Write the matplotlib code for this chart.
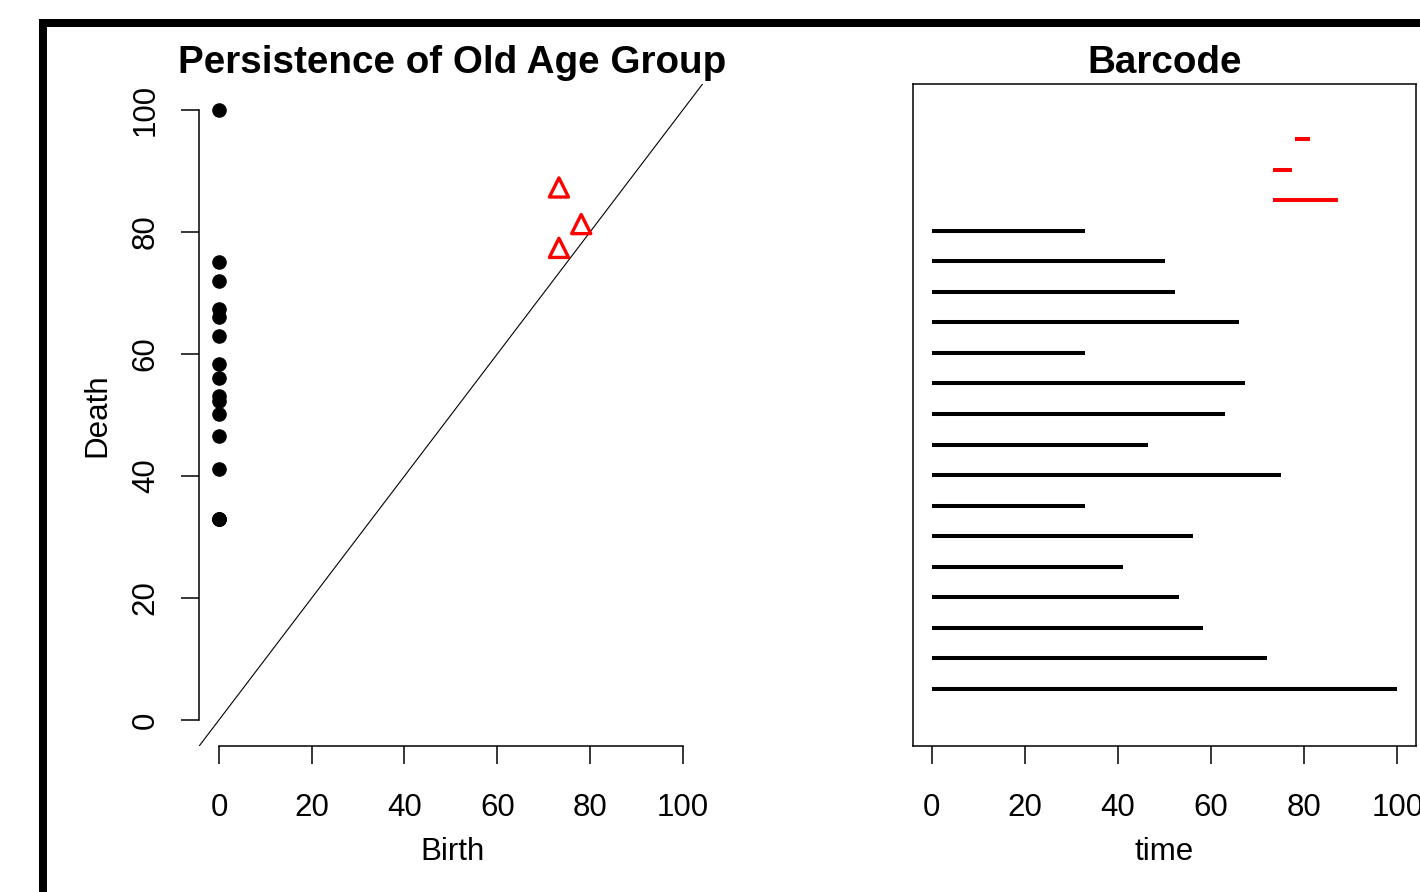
import matplotlib
matplotlib.use("Agg")
import numpy as np
import matplotlib.pyplot as plt
from matplotlib.patches import Rectangle

plt.rcParams['font.family'] = ['Liberation Sans', 'DejaVu Sans']

# dimension 0 features (birth at 0), in barcode order from bottom to top
death0 = [100, 72.0, 58.3, 53.1, 41.1, 56.1, 32.9, 75.1, 46.5, 63.0,
          67.3, 32.9, 66.0, 52.3, 50.1, 32.9]
birth0 = [0] * len(death0)
# dimension 1 features
birth1 = [73.3, 73.3, 78.1]
death1 = [87.3, 77.4, 81.3]
ticks = [0, 20, 40, 60, 80, 100]

W, H = 1420, 892
fig = plt.figure(figsize=(W / 100, H / 100), dpi=100)

# thick frame cut off at right and bottom
fig.add_artist(Rectangle((39 / W, 0), 8 / W, 1 - 19 / H, transform=fig.transFigure,
                         color='black', lw=0))
fig.add_artist(Rectangle((39 / W, 1 - 27 / H), 1, 8 / H, transform=fig.transFigure,
                         color='black', lw=0))

fs = 22.5

# persistence diagram
ax = fig.add_axes([199 / W, 146 / H, 507 / W, 662 / H])
ax.axline((0, 0), slope=1, color='black', lw=0.8)
ax.scatter(birth0, death0, s=90, color='black', zorder=3, clip_on=False)
ax.scatter(birth1, death1, s=190, marker='^', facecolors='none',
           edgecolors='red', linewidths=2.4, zorder=3)
ax.set_xlim(-4.3, 105)
ax.set_ylim(-4.26, 104.26)
for s in ['top', 'right']:
    ax.spines[s].set_visible(False)
for s in ['left', 'bottom']:
    ax.spines[s].set_bounds(0, 100)
    ax.spines[s].set_linewidth(1.1)
ax.set_xticks(ticks)
ax.set_yticks(ticks)
ax.tick_params(axis='x', length=13, width=1.1, labelsize=fs, pad=21)
ax.tick_params(axis='y', length=13, width=1.1, labelsize=fs, pad=14.5)
plt.setp(ax.get_yticklabels(), rotation=90, va='center')
ax.set_xlabel('Birth', fontsize=fs, labelpad=10)
ax.set_ylabel('Death', fontsize=fs, labelpad=13)
ax.set_title('Persistence of Old Age Group', fontsize=27.8, fontweight='bold', pad=8)

# barcode
bx = fig.add_axes([913 / W, 146 / H, 503 / W, 662 / H])
n0 = len(death0)
for i, (b, d) in enumerate(zip(birth0, death0)):
    bx.plot([b, d], [i + 1, i + 1], color='black', lw=2.9, solid_capstyle='butt')
for j, (b, d) in enumerate(zip(birth1, death1)):
    bx.plot([b, d], [n0 + j + 1, n0 + j + 1], color='red', lw=2.9, solid_capstyle='butt')
bx.set_xlim(-4, 104)
bx.set_ylim(-0.865, 20.8)
bx.set_yticks([])
bx.set_xticks(ticks)
for s in bx.spines.values():
    s.set_linewidth(1.1)
bx.tick_params(axis='x', length=13, width=1.1, labelsize=fs, pad=21)
bx.set_xlabel('time', fontsize=fs, labelpad=10)
bx.set_title('Barcode', fontsize=27.8, fontweight='bold', pad=8)

fig.savefig('out.png', dpi=100)
